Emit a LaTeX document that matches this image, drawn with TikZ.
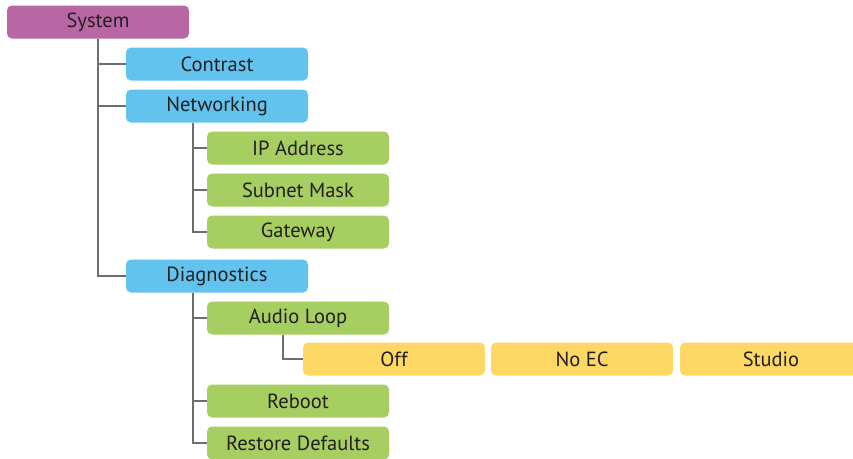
\documentclass[tikz,border=0pt]{standalone}
\usepackage{fontspec}
\setmainfont{PT Sans}
\definecolor{sysfill}{RGB}{185,102,165}
\definecolor{menufill}{RGB}{98,195,239}
\definecolor{itemfill}{RGB}{166,206,97}
\definecolor{optfill}{RGB}{253,216,101}
\definecolor{txt}{RGB}{35,31,32}
\definecolor{wire}{RGB}{109,110,113}
\tikzset{
  menubox/.style={rounded corners=5pt, minimum width=182pt, minimum height=33pt,
    inner sep=0pt, text=txt, font=\fontsize{20.5}{24}\selectfont},
  sysbox/.style={menubox, fill=sysfill},
  topbox/.style={menubox, fill=menufill},
  subbox/.style={menubox, fill=itemfill},
  optbox/.style={menubox, fill=optfill},
  wireline/.style={draw=wire, line width=1.3pt}
}
\begin{document}
\begin{tikzpicture}[x=1pt,y=1pt,yscale=-1]
    \useasboundingbox (0,0) rectangle (853,458);
    \clip (0,0) rectangle (853,458);
    % Boxes
    \node [sysbox] (system) at (98,22) {System};
    \node [topbox] (contrast) at (217,64) {Contrast};
    \node [topbox] (networking) at (217,106) {Networking};
    \node [subbox] (ipaddr) at (298,148) {IP Address};
    \node [subbox] (subnet) at (298,190) {Subnet Mask};
    \node [subbox] (gateway) at (298,232) {Gateway};
    \node [topbox] (diag) at (217,276) {Diagnostics};
    \node [subbox] (audio) at (298,318) {Audio Loop};
    \node [optbox] (off) at (394,359) {Off};
    \node [optbox] (noec) at (582,359) {No EC};
    \node [optbox] (studio) at (771,359) {Studio};
    \node [subbox] (reboot) at (298,401) {Reboot};
    \node [subbox] (restore) at (298,443) {Restore Defaults};
    % Connectors
    \draw [wireline] (system.south) |- (contrast.west);
    \draw [wireline] (system.south) |- (networking.west);
    \draw [wireline] (system.south) |- (diag.west);
    \draw [wireline] ([xshift=-24pt]networking.south) |- (ipaddr.west);
    \draw [wireline] ([xshift=-24pt]networking.south) |- (subnet.west);
    \draw [wireline] ([xshift=-24pt]networking.south) |- (gateway.west);
    \draw [wireline] ([xshift=-24pt]diag.south) |- (audio.west);
    \draw [wireline] ([xshift=-24pt]diag.south) |- (reboot.west);
    \draw [wireline] ([xshift=-24pt]diag.south) |- (restore.west);
    \draw [wireline] ([xshift=-15pt]audio.south) |- (off.west);
\end{tikzpicture}
\end{document}
